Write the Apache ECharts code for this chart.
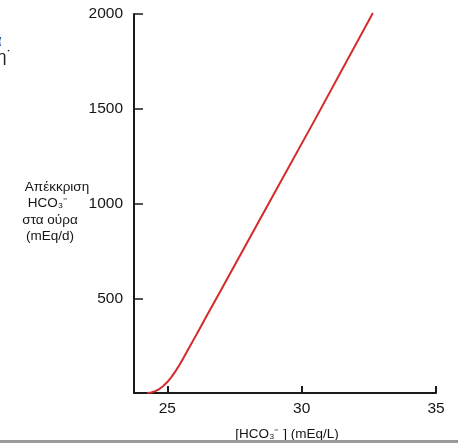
<!DOCTYPE html>
<html>
<head>
<meta charset="utf-8">
<script src="https://cdn.jsdelivr.net/npm/echarts@6/dist/echarts.min.js"></script>
<style>
html,body{margin:0;padding:0;background:#fff;}
#chart{width:458px;height:443px;}
</style>
</head>
<body>
<div id="chart"></div>
<script>
// HCO3- plasma concentration (mEq/L)
var hco3 = [24.25, 24.4, 24.55, 24.7, 24.85, 25.0, 25.15, 25.3, 25.45, 25.6, 25.8, 26.0, 26.2, 26.4, 27.0, 28.5, 30.5, 32.65];
// urinary HCO3- excretion (mEq/d)
var excretion = [0, 3, 10, 21, 37, 58, 84, 114, 148, 185, 236, 287, 338, 390, 544, 930, 1444, 2005];
var xTicks = [25, 30, 35];
var yTicks = [500, 1000, 1500, 2000];
var yTitleLines = ['Απέκκριση', 'HCO₃⁻', 'στα ούρα', '(mEq/d)'];
var xTitle = '[HCO₃⁻ ] (mEq/L)';

var pts = hco3.map(function (x, i) { return [x, excretion[i]]; });
var font = 'Liberation Sans';
var chart = echarts.init(document.getElementById('chart'), null, {renderer: 'canvas'});

var yTitleX = [57, 48, 50, 50];
var yTitleY = [187, 203, 220, 236];
var graphics = yTitleLines.map(function (t, i) {
  return {type: 'text', x: yTitleX[i], y: yTitleY[i],
    style: {text: t, fill: '#151515', font: '13.5px "' + font + '"', align: 'center', verticalAlign: 'middle'}};
});
graphics.push({type: 'text', x: 287, y: 434,
  style: {text: xTitle, fill: '#151515', font: '13.5px "' + font + '"', align: 'center', verticalAlign: 'middle'}});
graphics.push({type: 'rect', shape: {x: 0, y: 440, width: 458, height: 3}, style: {fill: '#9a9a9a'}});
graphics.push({type: 'text', x: -8, y: 41,
  style: {text: 'α', fill: '#2a4a9a', font: '17px "' + font + '"', verticalAlign: 'middle'}});
graphics.push({type: 'text', x: -3, y: 57,
  style: {text: 'η˙', fill: '#222', font: '17px "' + font + '"', verticalAlign: 'middle'}});

chart.setOption({
  animation: false,
  backgroundColor: '#fff',
  grid: {left: 134, right: 22, top: 14, bottom: 50, containLabel: false, outerBoundsMode: 'none'},
  xAxis: {
    type: 'value', min: 23.76, max: 35,
    axisLine: {show: true, onZero: false, lineStyle: {color: '#1a1a1a', width: 2}},
    axisTick: {show: true, inside: true, length: 7, customValues: xTicks, lineStyle: {color: '#1a1a1a', width: 2}},
    axisLabel: {customValues: xTicks, color: '#151515', fontSize: 15.5, fontFamily: font, margin: 8,
      formatter: function (v) { return String(v); }},
    splitLine: {show: false}
  },
  yAxis: {
    type: 'value', min: 0, max: 2000, interval: 500,
    axisLine: {show: true, lineStyle: {color: '#1a1a1a', width: 2}},
    axisTick: {show: true, inside: true, length: 9, customValues: yTicks, lineStyle: {color: '#1a1a1a', width: 1.5}},
    axisLabel: {customValues: yTicks, color: '#151515', fontSize: 15.5, fontFamily: font, margin: 11,
      formatter: function (v) { return String(v); }},
    splitLine: {show: false}
  },
  series: [{
    type: 'line', data: pts, smooth: false, showSymbol: false, clip: false,
    lineStyle: {color: '#d42a2a', width: 2}
  }],
  graphic: graphics
});
</script>
</body>
</html>
